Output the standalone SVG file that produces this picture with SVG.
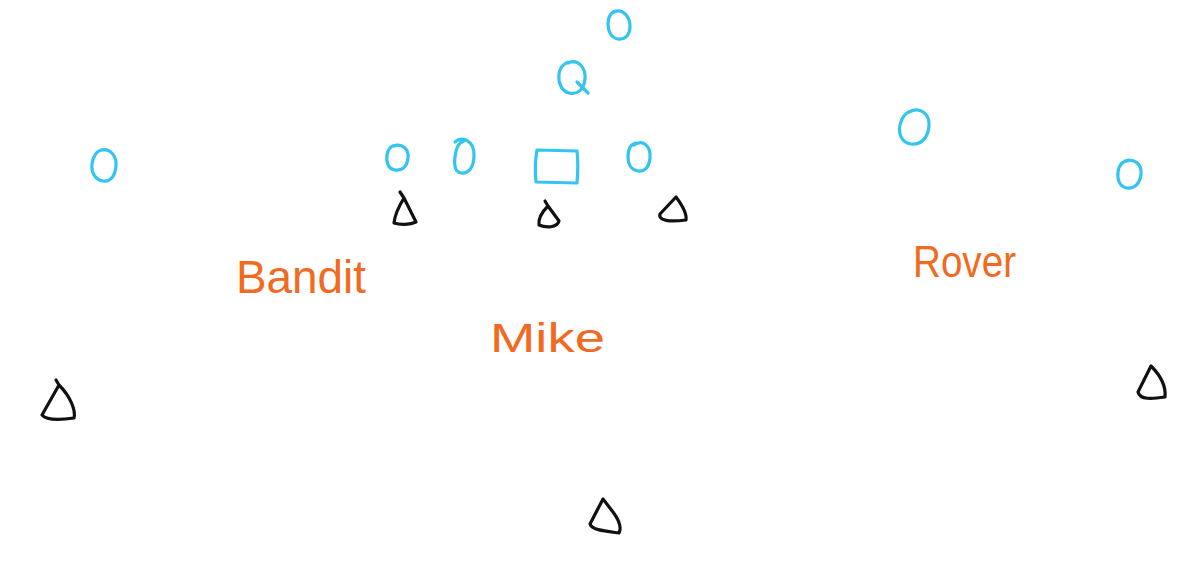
<svg xmlns="http://www.w3.org/2000/svg" width="1197" height="567" viewBox="0 0 1197 567">
<style>
.o{fill:none;stroke:#33c4f2;stroke-width:3.2;stroke-linecap:round;stroke-linejoin:round}
.d{fill:none;stroke:#111;stroke-width:3.2;stroke-linecap:round;stroke-linejoin:round}
.t{fill:#f26a21;font-family:"Liberation Sans","DejaVu Sans",sans-serif;font-weight:normal}
</style>
<rect width="1197" height="567" fill="#fff"/>
<g id="offense">
<g id="o-top"><path class="o" d="M614,12 C622,8 630,16 630,26 C630,36 624,40 618,39 C611,38 608,31 608,24 C608,16 612,11 617,11"/></g>
<g id="q"><path class="o" d="M568,63 C578,58 586,68 585,79 C584,90 577,95 569,93 C561,91 558,82 559,74 C560,66 566,61 573,62 M577,82 L588,93"/></g>
<g id="o-ls"><path class="o" d="M394,146 C402,143 409,149 408,158 C407,167 402,171 395,170 C388,169 386,162 387,155 C388,148 392,145 397,145"/></g>
<g id="o-lg"><path class="o" d="M455,142 C462,136 474,140 474,155 C474,168 468,174 461,173 C455,172 454,165 455,157 C456,148 459,142 464,141"/></g>
<g id="c"><path class="o" d="M537,150 L577,151 C578,160 578,172 577,183 L536,182 C535,172 535,161 537,150 Z"/></g>
<g id="o-rg"><path class="o" d="M634,145 C643,139 651,146 650,158 C649,168 644,172 638,171 C631,170 628,164 628,157 C628,149 631,144 636,143"/></g>
<g id="o-wl"><path class="o" d="M101,150 C110,148 117,156 116,166 C115,177 110,182 103,181 C95,180 91,172 92,164 C93,156 97,150 103,150"/></g>
<g id="o-wr1"><path class="o" d="M909,112 C920,106 930,114 929,126 C928,139 920,145 911,144 C902,143 898,134 900,125 C902,116 906,112 912,111"/></g>
<g id="o-wr2"><path class="o" d="M1125,161 C1134,158 1142,164 1141,174 C1140,184 1134,189 1127,188 C1120,187 1117,180 1118,172 C1119,165 1122,161 1128,161"/></g>
</g>
<g id="defense">
<g id="d1"><path class="d" d="M400,192 L404,198 L416,222 C410,225 400,225 394,223 C395,214 399,206 404,198"/></g>
<g id="d2"><path class="d" d="M545,201 L548,206 L559,221 C557,228 546,228 539,225 C538,218 542,212 548,206"/></g>
<g id="d3"><path class="d" d="M676,197 L660,214 C658,221 670,222 686,220 C687,214 682,205 676,197 Z"/></g>
<g id="d4"><path class="d" d="M56,380 L59,385 L42,415 C46,420 60,420 74,418 C76,410 70,396 59,385"/></g>
<g id="d5"><path class="d" d="M603,499 L590,524 C592,530 604,531 619,533 C622,527 619,520 613,512 L603,499 Z"/></g>
<g id="d6"><path class="d" d="M1151,366 L1138,392 C1140,400 1152,399 1165,397 C1166,387 1161,376 1151,366 Z"/></g>
</g>
<g id="labels">
<text class="t" x="236" y="293" font-size="46" textLength="130" lengthAdjust="spacingAndGlyphs">Bandit</text>
<text class="t" x="490" y="352" font-size="40" textLength="115" lengthAdjust="spacingAndGlyphs">Mike</text>
<text class="t" x="913" y="277" font-size="44" textLength="103" lengthAdjust="spacingAndGlyphs">Rover</text>
</g>
</svg>
